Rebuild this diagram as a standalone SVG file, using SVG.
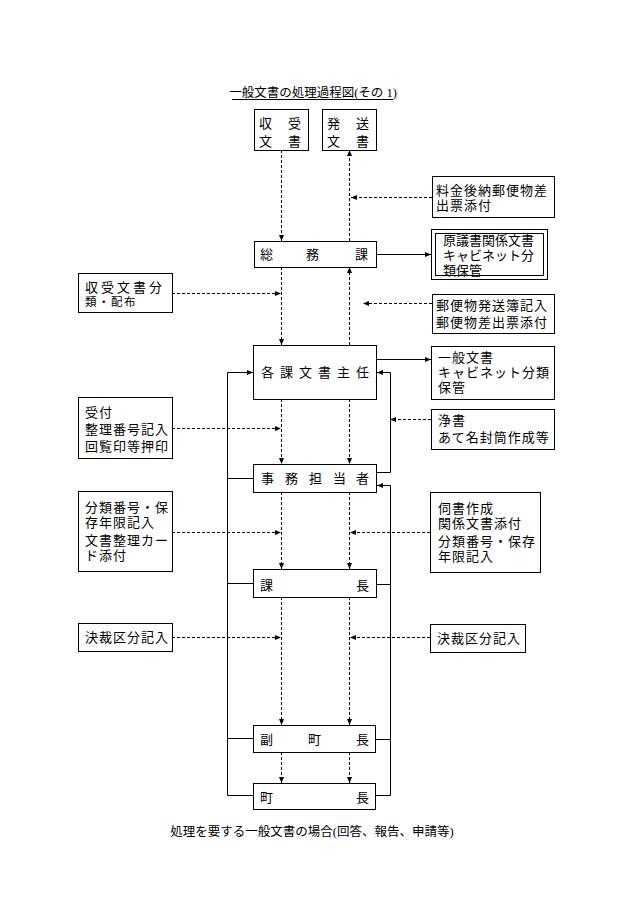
<svg xmlns="http://www.w3.org/2000/svg" width="630" height="916" viewBox="0 0 630 916">
<style>
text{font-family:"Liberation Sans","Noto Sans CJK JP","Noto Sans CJK SC",sans-serif;font-size:13px;letter-spacing:1px;fill:#000}
.box{fill:#fff;stroke:#000;stroke-width:1}
.s{fill:none;stroke:#000;stroke-width:1}
.d{fill:none;stroke:#000;stroke-width:1;stroke-dasharray:3,2}
.a{marker-end:url(#ah)}
.cap{font-family:"Liberation Serif","Noto Sans CJK JP",serif;font-size:12.5px;letter-spacing:0}
.sp{letter-spacing:0}
</style>
<defs>
<marker id="ah" markerUnits="userSpaceOnUse" markerWidth="6" markerHeight="6" refX="6" refY="3" orient="auto">
<path d="M0,0.5 L6,3 L0,5.5 z" fill="#000"/>
</marker>
</defs>
<rect width="630" height="916" fill="#fff"/>
<g id="title">
<text class="cap" x="313" y="97" text-anchor="middle">一般文書の処理過程図(その 1)</text>
<line x1="232" y1="99.5" x2="393" y2="99.5" stroke="#000" stroke-width="1"/>
</g>
<g id="caption">
<text class="cap" x="312" y="836" text-anchor="middle">処理を要する一般文書の場合(回答、報告、申請等)</text>
</g>
<g id="connectors">
<path class="d a" d="M281.5,150 V241"/>
<path class="d a" d="M349.5,241 V150"/>
<path class="d a" d="M432,197.5 H351"/>
<path class="s a" d="M377,254.5 H431"/>
<path class="d a" d="M432,303.5 H363"/>
<path class="d a" d="M172,293.5 H281"/>
<path class="d a" d="M281.5,267 V345"/>
<path class="d a" d="M349.5,345 V267"/>
<path class="s a" d="M377,359.5 H431"/>
<path class="d a" d="M431,419.5 H390"/>
<path class="s a" d="M377,472.5 H390.5 V372.5 H377"/>
<path class="d a" d="M281.5,399 V464"/>
<path class="d a" d="M349.5,399 V464"/>
<path class="d a" d="M172,428.5 H281"/>
<path class="s a" d="M253,795.5 H227.5 V372.5 H253"/>
<path class="s" d="M253,478.5 H227.5 M253,583.5 H227.5 M253,738.5 H227.5"/>
<path class="s a" d="M376,795.5 H390.5 V485.5 H377"/>
<path class="s" d="M376,584.5 H390.5 M376,739.5 H390.5"/>
<path class="d a" d="M281.5,492 V569"/>
<path class="d a" d="M349.5,492 V569"/>
<path class="d a" d="M172,532.5 H281"/>
<path class="d a" d="M430,532.5 H350"/>
<path class="d a" d="M281.5,597 V725"/>
<path class="d a" d="M349.5,597 V725"/>
<path class="d a" d="M172,637.5 H281"/>
<path class="d a" d="M430,637.5 H350"/>
<path class="d a" d="M281.5,752 V783"/>
<path class="d a" d="M349.5,752 V783"/>
</g>
<g id="n-shuju">
<rect class="box" x="254.5" y="109.5" width="54" height="41"/>
<text class="sp"><tspan x="259 288" y="128">収受</tspan><tspan x="259 288" y="146">文書</tspan></text>
</g>
<g id="n-hasso">
<rect class="box" x="322.5" y="109.5" width="54" height="41"/>
<text class="sp"><tspan x="327 356" y="128">発送</tspan><tspan x="327 356" y="146">文書</tspan></text>
</g>
<g id="n-somuka">
<rect class="box" x="254.5" y="241.5" width="122" height="26"/>
<text class="sp" x="260 306 355" y="259">総務課</text>
</g>
<g id="n-ryokin">
<rect class="box" x="432.5" y="176.5" width="122" height="41"/>
<text><tspan x="436" y="195">料金後納郵便物差</tspan><tspan x="436" y="210">出票添付</tspan></text>
</g>
<g id="n-gengi">
<rect class="box" x="431.5" y="229.5" width="116" height="50"/>
<rect class="box" x="435.5" y="233.5" width="108" height="42"/>
<text class="sp"><tspan x="443" y="245">原議書関係文書</tspan><tspan x="443" y="260">キャビネット分</tspan><tspan x="443" y="275">類保管</tspan></text>
</g>
<g id="n-yubin">
<rect class="box" x="432.5" y="294.5" width="122" height="39"/>
<text><tspan x="436" y="310">郵便物発送簿記入</tspan><tspan x="436" y="327">郵便物差出票添付</tspan></text>
</g>
<g id="n-bunrui">
<rect class="box" x="78.5" y="273.5" width="94" height="39"/>
<text class="sp"><tspan x="85 101 117 133 149" y="292">収受文書分</tspan><tspan x="85" y="305.5" style="font-size:11.5px;letter-spacing:1.5px">類・配布</tspan></text>
</g>
<g id="n-kakka">
<rect class="box" x="253.5" y="345.5" width="123" height="54"/>
<text class="sp" x="261 280 299 318 337 356" y="377">各課文書主任</text>
</g>
<g id="n-ippan">
<rect class="box" x="431.5" y="346.5" width="123" height="53"/>
<text><tspan x="438" y="362">一般文書</tspan><tspan x="438" y="377">キャビネット分類</tspan><tspan x="438" y="392">保管</tspan></text>
</g>
<g id="n-josho">
<rect class="box" x="431.5" y="409.5" width="123" height="40"/>
<text><tspan x="438" y="425">浄書</tspan><tspan x="438" y="442">あて名封筒作成等</tspan></text>
</g>
<g id="n-uketsuke">
<rect class="box" x="78.5" y="397.5" width="94" height="61"/>
<text><tspan x="85" y="417">受付</tspan><tspan x="85" y="434">整理番号記入</tspan><tspan x="85" y="451">回覧印等押印</tspan></text>
</g>
<g id="n-jimu">
<rect class="box" x="253.5" y="464.5" width="123" height="28"/>
<text class="sp" x="261 285 309 333 356" y="483">事務担当者</text>
</g>
<g id="n-bunrui2">
<rect class="box" x="78.5" y="491.5" width="94" height="80"/>
<text><tspan x="85" y="512">分類番号・保</tspan><tspan x="85" y="527">存年限記入</tspan><tspan x="85" y="545">文書整理カー</tspan><tspan x="85" y="560">ド添付</tspan></text>
</g>
<g id="n-ukagai">
<rect class="box" x="430.5" y="492.5" width="110" height="80"/>
<text><tspan x="438" y="513">伺書作成</tspan><tspan x="438" y="528">関係文書添付</tspan><tspan x="438" y="546">分類番号・保存</tspan><tspan x="438" y="561">年限記入</tspan></text>
</g>
<g id="n-kacho">
<rect class="box" x="253.5" y="569.5" width="123" height="28"/>
<text class="sp" x="260 356" y="590">課長</text>
</g>
<g id="n-kessai1">
<rect class="box" x="78.5" y="623.5" width="94" height="28"/>
<text x="85" y="642">決裁区分記入</text>
</g>
<g id="n-kessai2">
<rect class="box" x="430.5" y="624.5" width="95" height="28"/>
<text x="437" y="643">決裁区分記入</text>
</g>
<g id="n-fukucho">
<rect class="box" x="253.5" y="725.5" width="122" height="27"/>
<text class="sp" x="260 308 356" y="744">副町長</text>
</g>
<g id="n-chocho">
<rect class="box" x="253.5" y="783.5" width="122" height="26"/>
<text class="sp" x="260 356" y="802">町長</text>
</g>
</svg>
